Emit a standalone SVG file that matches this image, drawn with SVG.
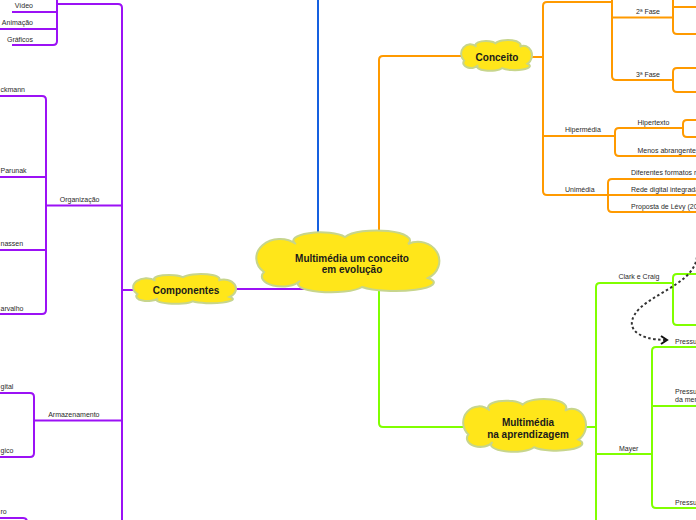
<svg xmlns="http://www.w3.org/2000/svg" xmlns:xlink="http://www.w3.org/1999/xlink" width="696" height="520" viewBox="0 0 696 520">
<style>
.ln{fill:none;stroke-width:2;stroke-linecap:butt;stroke-linejoin:round}
.pu{stroke:#9b11f5}
.or{stroke:#ff9a00}
.gr{stroke:#80ff00}
.bl{stroke:#1560e0}
.dot{fill:none;stroke:#333;stroke-width:2;stroke-dasharray:2.5 2.5}
.cl{fill:#ffe61a;stroke:#c7d58c;stroke-width:2}
.t{font-family:"Liberation Sans",Arial,sans-serif;font-size:7px;fill:#2a2a2a}
.ct{font-family:"Liberation Sans",Arial,sans-serif;font-size:10px;font-weight:bold;fill:#1a1a1a;text-anchor:middle}
</style>
<defs>
<path id="cloud" vector-effect="non-scaling-stroke" d="M264,272 A1,0.8 0 0 1 296,244 A1,0.3 0 0 1 345,237 A1,0.3 0 0 1 408,244 A1,0.9 0 0 1 428,278 A1,0.22 0 0 1 362,287 A1,0.25 0 0 1 300,281 A1,0.5 0 0 1 264,272 Z"/>
<marker id="chev" markerUnits="userSpaceOnUse" markerWidth="12" markerHeight="12" refX="7" refY="5" orient="auto">
<path d="M1,1 L7,5 L1,9" fill="none" stroke="#111" stroke-width="2"/>
</marker>
</defs>
<g id="connectors">
<path class="ln bl" d="M318,0 V245"/>
<path class="ln pu" d="M230,289 H314 Q318,289 318,285 V270"/>
<path class="ln pu" d="M140,290 H122"/>
<path class="ln pu" d="M57,4 H118 Q122,4 122,8 V520"/>
<path class="ln pu" d="M122,205.5 H46"/>
<path class="ln pu" d="M0,96 H42 Q46,96 46,100 V310 Q46,314 42,314 H0 M0,177 H46 M0,250 H46"/>
<path class="ln pu" d="M122,420.5 H34"/>
<path class="ln pu" d="M0,393 H30 Q34,393 34,397 V453 Q34,457 30,457 H0"/>
<path class="ln pu" d="M57,0 V41 Q57,45 53,45 H12 M12,12 H57 M0,29 H57"/>
<path class="ln pu" d="M0,518 H23 Q27,518 27,522"/>
<path class="ln or" d="M379,240 V60 Q379,56 383,56 H470"/>
<path class="ln or" d="M525,57 H543"/>
<path class="ln or" d="M612,2 H547 Q543,2 543,6 V191 Q543,195 547,195 H608"/>
<path class="ln or" d="M612,0 V76 Q612,80 616,80 H673 M612,17.5 H673"/>
<path class="ln or" d="M673,0 V30 Q673,34 677,34 H696 M673,7 H696"/>
<path class="ln or" d="M696,68 H677 Q673,68 673,72 V88 Q673,92 677,92 H696"/>
<path class="ln or" d="M543,136 H615"/>
<path class="ln or" d="M683,128 H619 Q615,128 615,132 V152 Q615,156 619,156 H696"/>
<path class="ln or" d="M696,120 H687 Q683,120 683,124 V133 Q683,137 687,137 H696"/>
<path class="ln or" d="M696,179 H612 Q608,179 608,183 V208 Q608,212 612,212 H696 M608,195 H696"/>
<path class="ln gr" d="M379,285 V423 Q379,427 383,427 H470"/>
<path class="ln gr" d="M580,427 H596"/>
<path class="ln gr" d="M673,283 H600 Q596,283 596,287 V520"/>
<path class="ln gr" d="M696,274 H677 Q673,274 673,278 V321 Q673,325 677,325 H696"/>
<path class="ln gr" d="M596,454 H652"/>
<path class="ln gr" d="M696,347 H656 Q652,347 652,351 V504 Q652,508 656,508 H696 M652,406 H696"/>
<path class="dot" d="M697,252 C699,280 660,290 640,308 C622,326 635,340 667,340" marker-end="url(#chev)"/>
</g>
<g id="central">
<use xlink:href="#cloud" href="#cloud" class="cl"/>
<text class="ct" x="352" y="262">Multimédia um conceito</text>
<text class="ct" x="352" y="273">em evolução</text>
</g>
<g id="componentes">
<use xlink:href="#cloud" href="#cloud" class="cl" transform="translate(184.5,289) scale(0.562,0.482) translate(-347.7,-261.5)"/>
<text class="ct" x="186" y="294">Componentes</text>
</g>
<g id="conceito">
<use xlink:href="#cloud" href="#cloud" class="cl" transform="translate(496.5,55.5) scale(0.387,0.498) translate(-347.7,-261.5)"/>
<text class="ct" x="497" y="61">Conceito</text>
</g>
<g id="aprendizagem">
<use xlink:href="#cloud" href="#cloud" class="cl" transform="translate(524.5,425.5) scale(0.671,0.852) translate(-347.7,-261.5)"/>
<text class="ct" x="528" y="426">Multimédia</text>
<text class="ct" x="528" y="438">na aprendizagem</text>
</g>
<g id="video"><text class="t" x="33" y="8" text-anchor="end">Vídeo</text></g>
<g id="animacao"><text class="t" x="33" y="25" text-anchor="end">Animação</text></g>
<g id="graficos"><text class="t" x="33" y="42" text-anchor="end">Gráficos</text></g>
<g id="organizacao"><text class="t" x="99.5" y="202" text-anchor="end">Organização</text></g>
<g id="ckmann"><text class="t" x="0.5" y="92">ckmann</text></g>
<g id="parunak"><text class="t" x="0.5" y="173">Parunak</text></g>
<g id="nassen"><text class="t" x="0.5" y="246">nassen</text></g>
<g id="arvalho"><text class="t" x="0.5" y="310.5">arvalho</text></g>
<g id="armazenamento"><text class="t" x="99.5" y="416.5" text-anchor="end">Armazenamento</text></g>
<g id="gital"><text class="t" x="0.5" y="389">gital</text></g>
<g id="gico"><text class="t" x="0.5" y="453">gico</text></g>
<g id="ro"><text class="t" x="0.5" y="514">ro</text></g>
<g id="fase2"><text class="t" x="636" y="14">2ª Fase</text></g>
<g id="fase3"><text class="t" x="636" y="77">3ª Fase</text></g>
<g id="hipermedia"><text class="t" x="565" y="132">Hipermédia</text></g>
<g id="hipertexto"><text class="t" x="637.5" y="125">Hipertexto</text></g>
<g id="menos"><text class="t" x="637.5" y="152.5">Menos abrangente</text></g>
<g id="diferentes"><text class="t" x="631" y="175">Diferentes formatos r</text></g>
<g id="unimedia"><text class="t" x="565" y="191.5">Unimédia</text></g>
<g id="rede"><text class="t" x="631" y="191.5">Rede digital integrada</text></g>
<g id="proposta"><text class="t" x="631" y="208.5">Proposta de Lévy (20</text></g>
<g id="clark"><text class="t" x="618.5" y="279">Clark e Craig</text></g>
<g id="pressu1"><text class="t" x="675" y="343.5">Pressu</text></g>
<g id="pressu2"><text class="t" x="675" y="394">Pressu</text><text class="t" x="675" y="402">da mer</text></g>
<g id="mayer"><text class="t" x="619" y="450.5">Mayer</text></g>
<g id="pressu3"><text class="t" x="675" y="504.5">Pressu</text></g>
</svg>
